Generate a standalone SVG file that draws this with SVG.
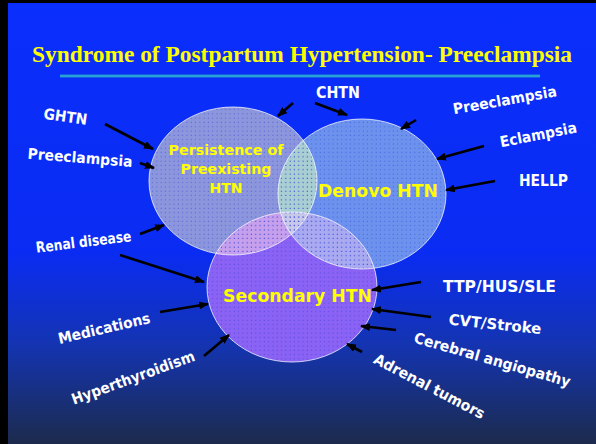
<svg xmlns="http://www.w3.org/2000/svg" width="596" height="444" viewBox="0 0 596 444">
<style>
.lbl{font-family:"DejaVu Sans","Liberation Sans",sans-serif;font-weight:bold;font-size:15px;fill:#FFFFFF;text-anchor:middle}
.ctr{font-family:"DejaVu Sans","Liberation Sans",sans-serif;font-weight:bold;fill:#FFFF00;text-anchor:middle}
.ring{fill:none;stroke:#FFFFFF;stroke-opacity:0.75;stroke-width:1}
.arr{stroke:#000000;stroke-width:2.6;fill:none;marker-end:url(#ah)}
</style>
<defs>
<linearGradient id="bg" x1="0" y1="0" x2="0" y2="444" gradientUnits="userSpaceOnUse">
<stop offset="0" stop-color="#0A2EFC"/>
<stop offset="0.57" stop-color="#0A2CF2"/>
<stop offset="0.78" stop-color="#1434B0"/>
<stop offset="1" stop-color="#1C2B4C"/>
</linearGradient>
<pattern id="dots" width="4.3" height="4.3" patternUnits="userSpaceOnUse">
<rect x="1.5" y="1.5" width="1.1" height="1.1" fill="#2436D8"/>
</pattern>
<marker id="ah" markerWidth="10" markerHeight="8" refX="9" refY="4" orient="auto" markerUnits="userSpaceOnUse">
<path d="M0,0 L10,4 L0,8 z" fill="#000000"/>
</marker>
<clipPath id="cP"><ellipse cx="233" cy="181" rx="84" ry="74"/></clipPath>
<clipPath id="cD"><ellipse cx="362" cy="194" rx="84" ry="75"/></clipPath>
</defs>

<rect x="0" y="0" width="596" height="444" fill="#000000"/>
<rect x="8" y="3" width="588" height="441" fill="url(#bg)"/>

<text x="302" y="62" font-family="'Liberation Serif','Times New Roman',serif" font-weight="bold" font-size="23" fill="#FFFF00" text-anchor="middle" textLength="540" lengthAdjust="spacingAndGlyphs">Syndrome of Postpartum Hypertension- Preeclampsia</text>
<line x1="60" y1="76" x2="540" y2="76" stroke="#1A8FD0" stroke-width="3"/>
<line x1="60" y1="76" x2="540" y2="76" stroke="#35B4E0" stroke-width="1"/>

<g id="venn-fills">
<ellipse cx="233" cy="181" rx="84" ry="74" fill="#8C96DC"/>
<ellipse cx="362" cy="194" rx="84" ry="75" fill="#6C92EE"/>
<ellipse cx="292" cy="287" rx="85" ry="75" fill="#8A62F4"/>
<ellipse cx="362" cy="194" rx="84" ry="75" fill="#A9CFD2" clip-path="url(#cP)"/>
<ellipse cx="292" cy="287" rx="85" ry="75" fill="#C6A0EC" clip-path="url(#cP)"/>
<ellipse cx="292" cy="287" rx="85" ry="75" fill="#AAAAF0" clip-path="url(#cD)"/>
<g clip-path="url(#cP)"><ellipse cx="292" cy="287" rx="85" ry="75" fill="#C8C8E8" clip-path="url(#cD)"/></g>
<ellipse cx="233" cy="181" rx="84" ry="74" fill="url(#dots)" opacity="0.5"/>
<ellipse cx="362" cy="194" rx="84" ry="75" fill="url(#dots)" opacity="0.5"/>
<ellipse cx="292" cy="287" rx="85" ry="75" fill="url(#dots)" opacity="0.5"/>
</g>

<g id="node-persistence">
<ellipse class="ring" cx="233" cy="181" rx="84" ry="74"/>
<text class="ctr" x="226" y="155" font-size="14.5" textLength="115" lengthAdjust="spacingAndGlyphs">Persistence of</text>
<text class="ctr" x="226" y="174" font-size="14.5" textLength="91" lengthAdjust="spacingAndGlyphs">Preexisting</text>
<text class="ctr" x="226" y="193" font-size="14.5" textLength="33" lengthAdjust="spacingAndGlyphs">HTN</text>
</g>
<g id="node-denovo">
<ellipse class="ring" cx="362" cy="194" rx="84" ry="75"/>
<text class="ctr" x="378" y="197" font-size="17.5" textLength="120" lengthAdjust="spacingAndGlyphs">Denovo HTN</text>
</g>
<g id="node-secondary">
<ellipse class="ring" cx="292" cy="287" rx="85" ry="75"/>
<text class="ctr" x="297.5" y="302" font-size="17.5" textLength="149" lengthAdjust="spacingAndGlyphs">Secondary HTN</text>
</g>

<g id="label-ghtn"><text class="lbl" transform="translate(65.5,116.5) rotate(8)" y="5.3" textLength="44" lengthAdjust="spacingAndGlyphs">GHTN</text></g>
<g id="label-preeclampsia-left"><text class="lbl" transform="translate(80,159) rotate(4.5)" y="3.8" textLength="105" lengthAdjust="spacingAndGlyphs">Preeclampsia</text></g>
<g id="label-renal"><text class="lbl" transform="translate(83.5,241.5) rotate(-7)" y="5.5" textLength="96" lengthAdjust="spacingAndGlyphs">Renal disease</text></g>
<g id="label-medications"><text class="lbl" transform="translate(104,328) rotate(-13)" y="5.5" textLength="94" lengthAdjust="spacingAndGlyphs">Medications</text></g>
<g id="label-hyperthyroidism"><text class="lbl" transform="translate(133.5,379) rotate(-20)" y="3.8" textLength="130" lengthAdjust="spacingAndGlyphs">Hyperthyroidism</text></g>
<g id="label-chtn"><text class="lbl" x="338" y="98" textLength="44" lengthAdjust="spacingAndGlyphs">CHTN</text></g>
<g id="label-preeclampsia-right"><text class="lbl" transform="translate(505,101.5) rotate(-10)" y="3.8" textLength="105" lengthAdjust="spacingAndGlyphs">Preeclampsia</text></g>
<g id="label-eclampsia"><text class="lbl" transform="translate(538.5,136) rotate(-11)" y="3.8" textLength="78" lengthAdjust="spacingAndGlyphs">Eclampsia</text></g>
<g id="label-hellp"><text class="lbl" x="543.5" y="186" textLength="49" lengthAdjust="spacingAndGlyphs">HELLP</text></g>
<g id="label-ttp"><text class="lbl" x="499.5" y="291.5" textLength="113" lengthAdjust="spacingAndGlyphs">TTP/HUS/SLE</text></g>
<g id="label-cvt"><text class="lbl" transform="translate(495,324) rotate(6)" y="5.3" textLength="93" lengthAdjust="spacingAndGlyphs">CVT/Stroke</text></g>
<g id="label-cerebral"><text class="lbl" transform="translate(492,361) rotate(16)" y="3.8" textLength="162" lengthAdjust="spacingAndGlyphs">Cerebral angiopathy</text></g>
<g id="label-adrenal"><text class="lbl" transform="translate(429.5,386) rotate(27.5)" y="5.5" textLength="123" lengthAdjust="spacingAndGlyphs">Adrenal tumors</text></g>

<g id="connectors">
<line class="arr" x1="105" y1="124" x2="153" y2="149"/>
<line class="arr" x1="140" y1="163" x2="154" y2="168"/>
<line class="arr" x1="140" y1="234" x2="164" y2="225"/>
<line class="arr" x1="120" y1="255" x2="204" y2="282"/>
<line class="arr" x1="160" y1="312" x2="208" y2="304"/>
<line class="arr" x1="204" y1="356" x2="229" y2="335"/>
<line class="arr" x1="293" y1="103" x2="278" y2="116"/>
<line class="arr" x1="315" y1="103" x2="347" y2="115"/>
<line class="arr" x1="416" y1="120" x2="401" y2="129"/>
<line class="arr" x1="484" y1="146" x2="437" y2="159"/>
<line class="arr" x1="495" y1="181" x2="446" y2="190"/>
<line class="arr" x1="421" y1="282" x2="372" y2="290"/>
<line class="arr" x1="431" y1="317" x2="372" y2="309"/>
<line class="arr" x1="396" y1="330" x2="361" y2="326"/>
<line class="arr" x1="362" y1="352" x2="347" y2="344"/>
</g>
</svg>
